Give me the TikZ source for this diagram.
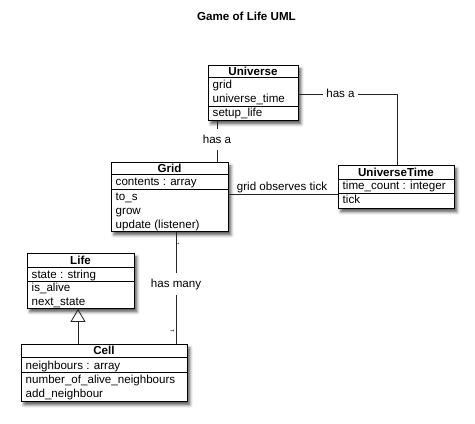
\documentclass[tikz,border=0pt]{standalone}
\usepackage{fontspec}
\setmainfont{Liberation Sans}
\usetikzlibrary{arrows.meta,shadows.blur}
\newcommand\clsline[2]{\draw[sepline] (#1.west |- 0,#2) -- (#1.east |- 0,#2);}
\begin{document}
\begin{tikzpicture}[x=1pt,y=-1pt,
  cls/.style={draw=black, line width=0.9pt, fill=white, anchor=north west, inner sep=0pt,
    blur shadow={shadow xshift=2.5pt, shadow yshift=-3.5pt, shadow blur radius=3pt, shadow opacity=65}},
  sepline/.style={line width=0.9pt, black},
  hdr/.style={anchor=center, inner sep=0pt, font=\bfseries\fontsize{11.6}{14}\selectfont},
  body/.style={anchor=base west, inner sep=0pt, font=\fontsize{11.6}{14}\selectfont},
  lbl/.style={fill=white, inner xsep=3pt, inner ysep=5pt, font=\fontsize{11.6}{14}\selectfont},
  conn/.style={line width=0.8pt, black!85},
  mult/.style={inner sep=0pt, font=\fontsize{5}{6}\selectfont}
]
\useasboundingbox (0,0) rectangle (475,424);

\node[font=\bfseries\fontsize{11.6}{14}\selectfont] (title) at (246.5,16) {Game of Life UML};

% Universe
\node[cls, minimum width=90pt, minimum height=55pt] (universe) at (208,65) {};
\clsline{universe}{77}
\clsline{universe}{106}
\node[hdr] (universeT) at (253,71) {Universe};
\node[body] (universeA1) at (212.5,88.5) {grid};
\node[body] (universeA2) at (212.5,102) {universe\_time};
\node[body] (universeM1) at (212.5,116.5) {setup\_life};

% Grid
\node[cls, minimum width=117pt, minimum height=69pt] (grid) at (111,162) {};
\clsline{grid}{174}
\clsline{grid}{189}
\node[hdr] (gridT) at (169.5,168) {Grid};
\node[body] (gridA1) at (115.5,185.5) {contents : array};
\node[body] (gridM1) at (115.5,200) {to\_s};
\node[body] (gridM2) at (115.5,214) {grow};
\node[body] (gridM3) at (115.5,228) {update (listener)};

% UniverseTime
\node[cls, minimum width=116pt, minimum height=43pt] (ut) at (338,165) {};
\clsline{ut}{179}
\clsline{ut}{193}
\node[hdr] (utT) at (396,172) {UniverseTime};
\node[body] (utA1) at (342.5,189.5) {time\_count : integer};
\node[body] (utM1) at (342.5,203.5) {tick};

% Life
\node[cls, minimum width=107pt, minimum height=55pt] (life) at (27,253) {};
\clsline{life}{267}
\clsline{life}{281}
\node[hdr] (lifeT) at (80.5,260) {Life};
\node[body] (lifeA1) at (31.5,278) {state : string};
\node[body] (lifeM1) at (31.5,291.5) {is\_alive};
\node[body] (lifeM2) at (31.5,305) {next\_state};

% Cell
\node[cls, minimum width=166pt, minimum height=57pt] (cell) at (21,344) {};
\clsline{cell}{357}
\clsline{cell}{372}
\node[hdr] (cellT) at (104,350.5) {Cell};
\node[body] (cellA1) at (25.5,369) {neighbours : array};
\node[body] (cellM1) at (25.5,383) {number\_of\_alive\_neighbours};
\node[body] (cellM2) at (25.5,397) {add\_neighbour};

% Universe -- UniverseTime
\coordinate (c1) at (397,94);
\node[lbl, inner ysep=2pt] (hasa1) at (340.5,93.5) {has a};
\draw[conn] (universe.east |- c1) -- (hasa1.west |- c1);
\draw[conn] (hasa1.east |- c1) -- (c1) -- (c1 |- ut.north);

% Universe -- Grid
\node[lbl, inner ysep=6pt] (hasa2) at (217,139.5) {has a};
\draw[conn] (universe.south -| hasa2) -- (hasa2.north);
\draw[conn] (hasa2.south) -- (grid.north -| hasa2);

% Grid -- UniverseTime
\coordinate (gline) at (282,194.5);
\draw[conn] (grid.east |- gline) -- (ut.west |- gline);
\node[anchor=base, inner sep=0pt, font=\fontsize{11.6}{14}\selectfont] (gobs) at (282,190.5) {grid observes tick};

% Grid -- Cell
\node[lbl] (hasmany) at (176,284) {has many};
\draw[conn] (grid.south -| hasmany) -- (hasmany.north);
\draw[conn] (hasmany.south) -- (cell.north -| hasmany);
\node[mult] (mstar) at (178.3,244.5) {*};
\node[mult, rotate=90] (mone) at (172.5,331) {1};

% Cell -> Life (inheritance)
\coordinate (ix) at (78,330);
\draw[conn, -{Triangle[open, length=13pt, width=15pt]}] (cell.north -| ix) -- (life.south -| ix);
\end{tikzpicture}
\end{document}
